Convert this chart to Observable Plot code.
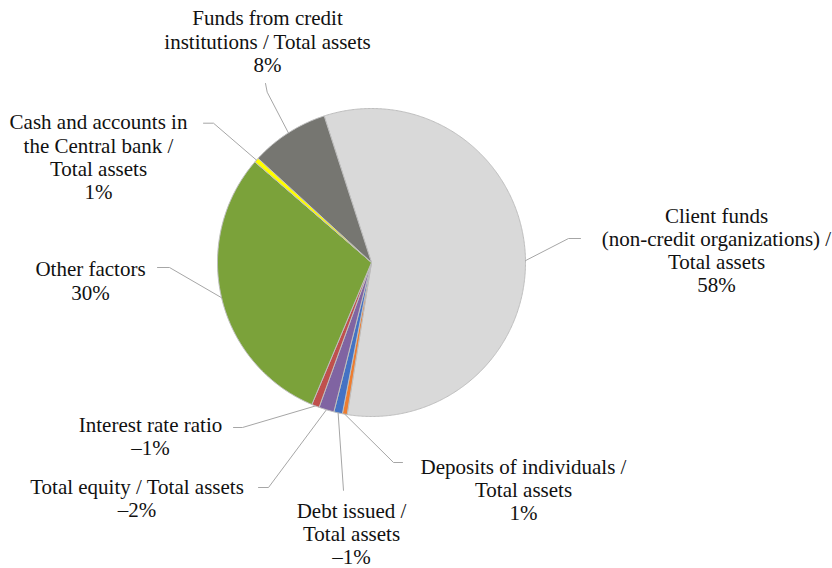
<!DOCTYPE html>
<html>
<head>
<meta charset="utf-8">
<script src="https://cdn.jsdelivr.net/npm/d3@7"></script>
<script src="https://cdn.jsdelivr.net/npm/@observablehq/plot@0.6"></script>
<style>
  html, body { margin: 0; padding: 0; background: #fff; font-family: "Liberation Serif", serif; }
  #chart { position: relative; }
  #chart svg { display: block; }
  #chart svg text, #chart svg tspan { font-family: "Liberation Serif", "Tinos", serif !important; }
</style>
</head>
<body>
<div id="chart"></div>
<script>
// ---- data ----
const categories = [
  "Client funds\n(non-credit organizations) /\nTotal assets",
  "Deposits of individuals /\nTotal assets",
  "Debt issued /\nTotal assets",
  "Total equity / Total assets",
  "Interest rate ratio",
  "Other factors",
  "Cash and accounts in\nthe Central bank /\nTotal assets",
  "Funds from credit\ninstitutions / Total assets"
];
const values = [57.5, 0.5, -0.9, -1.6, -0.8, 30.0, 0.5, 8.2];
const sliceColors = ["#d9d9d9", "#ed7d31", "#4472c4", "#8064a2", "#c0504d", "#7ba23a", "#ffff00", "#767671"];

// ---- layout (not data) ----
const W = 832, H = 568;
const cx = 371, cy = 262, R = 154;
const startDeg = -17.9;
const labelPos = [
  [716, 249.5], [523, 489], [351, 533], [136.5, 497.5],
  [150, 435.5], [90, 280], [98, 156.3], [267, 40.6]
];
const leaderStart = [
  [580, 238], [402, 462], [343, 490], [258, 487],
  [233, 427], [157, 267], [203, 122.7], [265, 83]
];
const leaderElbow = [
  [568, 238], [393, 462], [343, 490], [268, 487],
  [242, 427], [169, 267], [213, 122.7], [266.7, 91.7]
];
const leaderAngle = [89.3, null, null, null, null, null, null, null];

const fmtPct = v => (v < 0 ? "\u2013" : "") + Math.abs(Math.round(v)) + "%";

const rad = d => d * Math.PI / 180;
const pie = d3.pie().sort(null).value(d => Math.abs(d))
  .startAngle(rad(startDeg)).endAngle(rad(startDeg) + 2 * Math.PI);
const arcs = pie(values);

const pt = (a, r) => ({x: cx + r * Math.sin(a), y: cy - r * Math.cos(a)});

const slices = arcs.map((a, i) => {
  const pts = [{x: cx, y: cy}];
  const n = Math.max(2, Math.ceil((a.endAngle - a.startAngle) / rad(0.5)));
  for (let k = 0; k <= n; k++) pts.push(pt(a.startAngle + (a.endAngle - a.startAngle) * k / n, R));
  pts.push({x: cx, y: cy});
  return pts;
});

const leaders = arcs.map((a, i) => {
  const ang = leaderAngle[i] != null ? rad(leaderAngle[i]) : (a.startAngle + a.endAngle) / 2;
  const p = pt(ang, R);
  return [
    {x: leaderStart[i][0], y: leaderStart[i][1]},
    {x: leaderElbow[i][0], y: leaderElbow[i][1]},
    p
  ];
});

const labels = categories.map((c, i) => ({
  text: c + "\n" + fmtPct(values[i]),
  x: labelPos[i][0], y: labelPos[i][1]
}));

const marks = [];
slices.forEach((s, i) => {
  marks.push(Plot.line(s, {x: "x", y: "y", fill: sliceColors[i], stroke: "#bfbfbf", strokeWidth: 1}));
});
leaders.forEach(l => {
  marks.push(Plot.line(l, {x: "x", y: "y", stroke: "#a6a6a6", strokeWidth: 1}));
});
marks.push(Plot.text(labels, {
  x: "x", y: "y", text: "text",
  textAnchor: "middle", lineAnchor: "middle", lineHeight: 1.11,
  fontSize: 21, fill: "#111",
  fontFamily: "Liberation Serif"
}));

const chart = Plot.plot({
  width: W, height: H,
  margin: 0,
  x: {domain: [0, W], range: [0, W], axis: null},
  y: {domain: [0, H], range: [0, H], axis: null},
  marks
});
document.getElementById("chart").appendChild(chart);
</script>
</body>
</html>
